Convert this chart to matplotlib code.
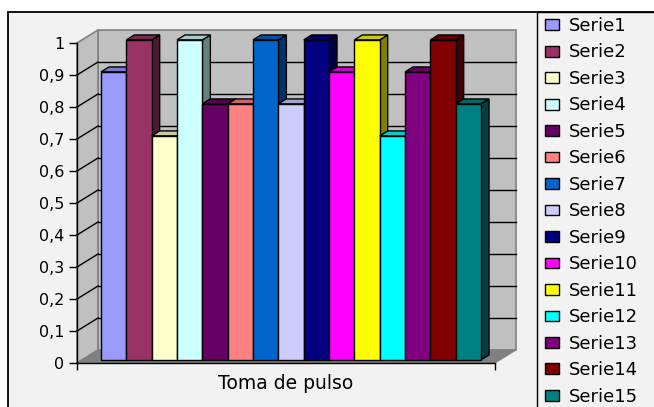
import matplotlib
matplotlib.use("Agg")
import matplotlib.pyplot as plt
from matplotlib.patches import Polygon, Rectangle
from matplotlib.ticker import FixedLocator, FuncFormatter
from matplotlib import colors as mcolors

# ---- data ----
series = ["Serie1", "Serie2", "Serie3", "Serie4", "Serie5", "Serie6", "Serie7",
          "Serie8", "Serie9", "Serie10", "Serie11", "Serie12", "Serie13",
          "Serie14", "Serie15"]
values = [0.9, 1.0, 0.7, 1.0, 0.8, 0.8, 1.0, 0.8, 1.0, 0.9, 1.0, 0.7, 0.9, 1.0, 0.8]
bar_colors = ["#9999FF", "#993366", "#FFFFCC", "#CCFFFF", "#660066", "#FF8080",
              "#0066CC", "#CCCCFF", "#000080", "#FF00FF", "#FFFF00", "#00FFFF",
              "#800080", "#800000", "#008080"]
category = "Toma de pulso"
y_ticks = [0, 0.1, 0.2, 0.3, 0.4, 0.5, 0.6, 0.7, 0.8, 0.9, 1.0]

# ---- figure ----
W, H = 654, 407
fig = plt.figure(figsize=(W / 100, H / 100), dpi=100)
fig.patch.set_facecolor("white")

# chart area and legend frame (behind the axes)
fig.patches.append(Rectangle((8 / W, -0.02), 1.0, (H - 12) / H + 0.02,
                             transform=fig.transFigure, facecolor="#F2F2F2",
                             edgecolor="black", lw=1.3, zorder=-3))
fig.patches.append(Rectangle((537 / W, -0.02), 1.0, (H - 12) / H + 0.02,
                             transform=fig.transFigure, facecolor="none",
                             edgecolor="black", lw=1.0, zorder=-2))

# front plane of the 3D box: value 0..1, category width with 150% gap
n = len(values)
gap = 1.5
xmax = n + gap
ax = fig.add_axes([77 / W, (H - 363) / H, (495 - 77) / W, 320 / H])
ax.set_zorder(2)
ax.set_xlim(0, xmax)
ax.set_ylim(0, 1)
ax.patch.set_visible(False)

# oblique depth offset (full depth) in data units
px_x = (495 - 77) / xmax
DX = 21 / px_x
DY = 13 / 320

wall = "#C0C0C0"
edge = "#808080"
# back wall
ax.add_patch(Polygon([(DX, DY), (xmax + DX, DY), (xmax + DX, 1 + DY), (DX, 1 + DY)],
                     closed=True, facecolor=wall, edgecolor=edge, lw=1.2,
                     clip_on=False, zorder=1))
# left wall
ax.add_patch(Polygon([(0, 0), (DX, DY), (DX, 1 + DY), (0, 1)],
                     closed=True, facecolor=wall, edgecolor=edge, lw=1.2,
                     clip_on=False, zorder=1))
# floor
ax.add_patch(Polygon([(0, 0), (xmax, 0), (xmax + DX, DY), (DX, DY)],
                     closed=True, facecolor="#808080", edgecolor="#808080", lw=0.8,
                     clip_on=False, zorder=1))
# gridlines on the walls
for t in y_ticks[1:-1]:
    ax.plot([DX, xmax + DX], [t + DY, t + DY], color="black", lw=1.0,
            clip_on=False, zorder=2)
    ax.plot([0, DX], [t, t + DY], color="black", lw=1.0, clip_on=False, zorder=2)


def shade(c, f):
    r, g, b = mcolors.to_rgb(c)
    return (r * f, g * f, b * f)


# 3D columns
z0, z1 = 0.24, 0.62
handles = []
for i, (v, c, name) in enumerate(zip(values, bar_colors, series)):
    x0 = gap / 2 + i + z0 * DX
    y0 = z0 * DY
    ddx = (z1 - z0) * DX
    ddy = (z1 - z0) * DY
    side = Polygon([(x0 + 1, y0), (x0 + 1 + ddx, y0 + ddy),
                    (x0 + 1 + ddx, y0 + v + ddy), (x0 + 1, y0 + v)],
                   closed=True, facecolor=shade(c, 0.5), edgecolor="black",
                   lw=1.0, clip_on=False, zorder=3 + i)
    top = Polygon([(x0, y0 + v), (x0 + 1, y0 + v), (x0 + 1 + ddx, y0 + v + ddy),
                   (x0 + ddx, y0 + v + ddy)],
                  closed=True, facecolor=shade(c, 0.8), edgecolor="black",
                  lw=1.0, clip_on=False, zorder=3 + i)
    front = Rectangle((x0, y0), 1, v, facecolor=c, edgecolor="black", lw=1.0,
                      clip_on=False, zorder=3 + i, label=name)
    ax.add_patch(side)
    ax.add_patch(top)
    ax.add_patch(front)
    handles.append(front)

# axes styling
for s in ("top", "right"):
    ax.spines[s].set_visible(False)
for s in ("left", "bottom"):
    ax.spines[s].set_color("black")
    ax.spines[s].set_linewidth(1.0)
    ax.spines[s].set_zorder(30)

ax.yaxis.set_major_locator(FixedLocator(y_ticks))
ax.yaxis.set_major_formatter(FuncFormatter(
    lambda v, p: ("%g" % round(v, 1)).replace(".", ",")))
ax.tick_params(axis="y", direction="out", length=6, width=1.0, pad=3,
               labelsize=11.5, colors="black")
ax.xaxis.set_major_locator(FixedLocator([0, xmax]))
ax.tick_params(axis="x", direction="out", length=5, width=1.0, labelbottom=False)
ax.set_xlabel(category, fontsize=13.5, labelpad=3, color="black")

# legend
ax.legend(handles=handles, labels=series, loc="upper left",
          bbox_to_anchor=(545 / W, 1 - 17 / H), bbox_transform=fig.transFigure,
          frameon=False, fontsize=13, handlelength=0.8, handleheight=0.55,
          labelspacing=0.47, handletextpad=0.5, borderpad=0, borderaxespad=0)

fig.savefig("out.png", dpi=100, facecolor=fig.get_facecolor())
